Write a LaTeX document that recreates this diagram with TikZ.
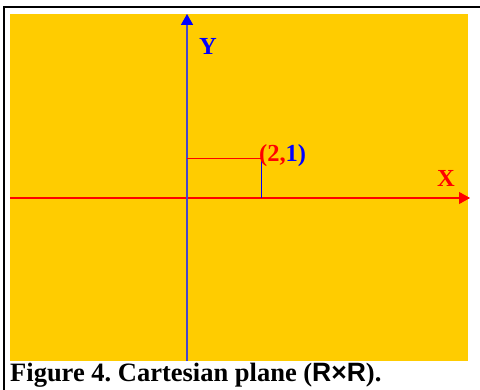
\documentclass[tikz,border=0pt]{standalone}
\usepackage{fontspec}
\setmainfont{Liberation Serif}
\newfontfamily\arialfont{Liberation Sans}
\usetikzlibrary{arrows.meta}
\frenchspacing
\definecolor{plane}{RGB}{255,204,0}
\definecolor{yaxis}{RGB}{70,70,205}
\tikzset{
  axislabel/.style={font=\fontsize{24.5}{28}\selectfont\bfseries, inner sep=0pt},
  guide/.style={line width=1pt}
}
\begin{document}
\begin{tikzpicture}[x=1pt, y=-1pt, >={Triangle[length=11pt,width=12pt]}]
    \useasboundingbox (0,0) rectangle (480,390);
    % Frame and coloured plane
    \fill[white] (0,0) rectangle (480,390);
    \draw[line width=2.5pt] (4,390) -- (4,7) -- (480,7);
    \fill[plane] (10,14) rectangle (468,361);

    % End points of the axes
    \coordinate (O) at (187,198);
    \coordinate (xstart) at (10,198);
    \coordinate (xend) at (470,198);
    \coordinate (ybot) at (187,361);
    \coordinate (ytop) at (187,14);

    % The point and its projections
    \coordinate (P) at (261,159);
    \coordinate (Py) at (187,159);
    \coordinate (Px) at (261,198);

    % Axes
    \draw[->, red, line width=1.2pt] (xstart) -- (xend);
    \draw[-{Triangle[length=11pt,width=12pt,color=blue]}, yaxis, line width=1.6pt] (ybot) -- (ytop);
    \node[axislabel, red] (xlab) at (446,178) {X};
    \node[axislabel, blue] (ylab) at (208,46) {Y};

    % Projections of (2,1)
    \draw[guide, red] (Py) -- (P);
    \draw[guide, blue] (P) -- (Px);
    \node[axislabel, anchor=base west] (plab) at (259,162)
        {\textcolor{red}{(2,}\textcolor{blue}{1)}};

    % Caption
    \node[anchor=base west, inner sep=0pt, font=\fontsize{26.5}{30}\selectfont\bfseries]
        (caption) at (10,382) {Figure 4. Cartesian plane ({\arialfont R×R}).};
\end{tikzpicture}
\end{document}
